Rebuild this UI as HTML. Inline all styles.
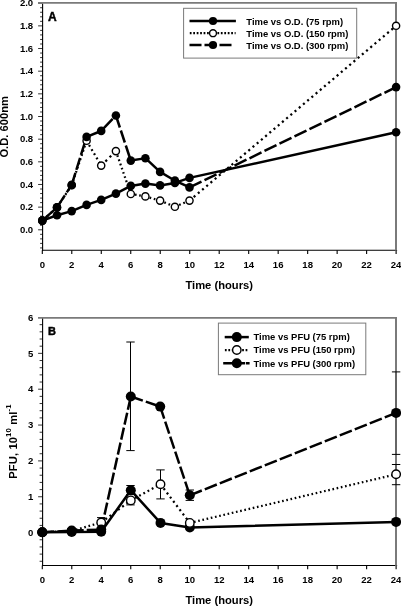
<!DOCTYPE html>
<html lang="en">
<head>
<meta charset="utf-8">
<title>Growth curves and PFU</title>
<style>
html,body{margin:0;padding:0;background:#fff;}
body{width:401px;height:606px;overflow:hidden;}
svg{display:block;}
text{font-family:"Liberation Sans", Arial, Helvetica, sans-serif;font-weight:bold;fill:#000;}
.tk{font-size:9.55px;}
.ti{font-size:11.2px;}
.lg{font-size:9.45px;}
.pl{font-size:12px;stroke:#000;stroke-width:0.45px;}
</style>
</head>
<body>
<svg width="401" height="606" viewBox="0 0 401 606">
<rect width="401" height="606" fill="#fff"/>
<g id="panelA">
<path d="M42.6 3.4V250.9M42.0 250.3H397.108" stroke="#000" stroke-width="1.1" fill="none"/>
<path d="M42.6 247.93h-2.5M42.6 243.40h-2.5M42.6 238.86h-2.5M42.6 234.33h-2.5M42.6 229.80h-4.5M42.6 225.27h-2.5M42.6 220.74h-2.5M42.6 216.20h-2.5M42.6 211.67h-2.5M42.6 207.14h-4.5M42.6 202.61h-2.5M42.6 198.08h-2.5M42.6 193.54h-2.5M42.6 189.01h-2.5M42.6 184.48h-4.5M42.6 179.95h-2.5M42.6 175.42h-2.5M42.6 170.88h-2.5M42.6 166.35h-2.5M42.6 161.82h-4.5M42.6 157.29h-2.5M42.6 152.76h-2.5M42.6 148.22h-2.5M42.6 143.69h-2.5M42.6 139.16h-4.5M42.6 134.63h-2.5M42.6 130.10h-2.5M42.6 125.56h-2.5M42.6 121.03h-2.5M42.6 116.50h-4.5M42.6 111.97h-2.5M42.6 107.44h-2.5M42.6 102.90h-2.5M42.6 98.37h-2.5M42.6 93.84h-4.5M42.6 89.31h-2.5M42.6 84.78h-2.5M42.6 80.24h-2.5M42.6 75.71h-2.5M42.6 71.18h-4.5M42.6 66.65h-2.5M42.6 62.12h-2.5M42.6 57.58h-2.5M42.6 53.05h-2.5M42.6 48.52h-4.5M42.6 43.99h-2.5M42.6 39.46h-2.5M42.6 34.92h-2.5M42.6 30.39h-2.5M42.6 25.86h-4.5M42.6 21.33h-2.5M42.6 16.80h-2.5M42.6 12.26h-2.5M42.6 7.73h-2.5M42.6 3.20h-4.5" stroke="#000" stroke-width="0.8" fill="none"/>
<text x="33.2" y="233.0" text-anchor="end" class="tk">0.0</text>
<text x="33.2" y="210.3" text-anchor="end" class="tk">0.2</text>
<text x="33.2" y="187.7" text-anchor="end" class="tk">0.4</text>
<text x="33.2" y="165.0" text-anchor="end" class="tk">0.6</text>
<text x="33.2" y="142.4" text-anchor="end" class="tk">0.8</text>
<text x="33.2" y="119.7" text-anchor="end" class="tk">1.0</text>
<text x="33.2" y="97.0" text-anchor="end" class="tk">1.2</text>
<text x="33.2" y="74.4" text-anchor="end" class="tk">1.4</text>
<text x="33.2" y="51.7" text-anchor="end" class="tk">1.6</text>
<text x="33.2" y="29.1" text-anchor="end" class="tk">1.8</text>
<text x="33.2" y="6.4" text-anchor="end" class="tk">2.0</text>
<path d="M38.0 2.9H397.008" stroke="#7a7a7a" stroke-width="1.7" fill="none"/>
<path d="M396 2.9V250.9" stroke="#7a7a7a" stroke-width="2" fill="none"/>
<path d="M42.30 250.3v3.8M71.78 250.3v3.8M101.27 250.3v3.8M130.75 250.3v3.8M160.24 250.3v3.8M189.72 250.3v3.8M219.20 250.3v3.8M248.69 250.3v3.8M278.17 250.3v3.8M307.66 250.3v3.8M337.14 250.3v3.8M366.62 250.3v3.8M396.11 250.3v3.8" stroke="#000" stroke-width="1.1" fill="none"/>
<text x="42.30" y="267.5" text-anchor="middle" class="tk">0</text>
<text x="71.78" y="267.5" text-anchor="middle" class="tk">2</text>
<text x="101.27" y="267.5" text-anchor="middle" class="tk">4</text>
<text x="130.75" y="267.5" text-anchor="middle" class="tk">6</text>
<text x="160.24" y="267.5" text-anchor="middle" class="tk">8</text>
<text x="189.72" y="267.5" text-anchor="middle" class="tk">10</text>
<text x="219.20" y="267.5" text-anchor="middle" class="tk">12</text>
<text x="248.69" y="267.5" text-anchor="middle" class="tk">14</text>
<text x="278.17" y="267.5" text-anchor="middle" class="tk">16</text>
<text x="307.66" y="267.5" text-anchor="middle" class="tk">18</text>
<text x="337.14" y="267.5" text-anchor="middle" class="tk">20</text>
<text x="366.62" y="267.5" text-anchor="middle" class="tk">22</text>
<text x="396.11" y="267.5" text-anchor="middle" class="tk">24</text>
<text x="219.2" y="288.9" text-anchor="middle" class="ti">Time (hours)</text>
<text transform="translate(8.3,126.8) rotate(-90)" text-anchor="middle" class="ti">O.D. 600nm</text>
<text x="48" y="21.3" class="pl" style="font-size:12px">A</text>
<path d="M42.3 220.6L57.0 215.3L71.7 211.1L86.6 204.9L101.2 199.9L115.9 193.6L130.8 185.9L145.4 183.6L160.1 185.4L174.9 182.9L189.5 177.9L396.1 132.3" stroke="#000" stroke-width="2.5" fill="none" stroke-linejoin="round"/>
<path d="M42.3 220.6L57.0 207.4" stroke="#000" stroke-width="2.25" fill="none" stroke-dasharray="2.15 3.49"/>
<path d="M57.0 207.4L71.7 185.2" stroke="#000" stroke-width="2.25" fill="none" stroke-dasharray="1.92 3.12"/>
<path d="M71.7 185.2L86.6 140.8" stroke="#000" stroke-width="2.25" fill="none" stroke-dasharray="1.69 2.74"/>
<path d="M86.6 140.8L101.2 165.6" stroke="#000" stroke-width="2.25" fill="none" stroke-dasharray="1.86 3.02"/>
<path d="M101.2 165.6L115.9 151.1" stroke="#000" stroke-width="2.25" fill="none" stroke-dasharray="2.25 3.65"/>
<path d="M115.9 151.1L130.8 194.0" stroke="#000" stroke-width="2.25" fill="none" stroke-dasharray="1.69 2.75"/>
<path d="M130.8 194.0L145.4 196.4" stroke="#000" stroke-width="2.25" fill="none" stroke-dasharray="1.62 2.63"/>
<path d="M145.4 196.4L160.1 200.6" stroke="#000" stroke-width="2.25" fill="none" stroke-dasharray="1.66 2.70"/>
<path d="M160.1 200.6L174.9 206.8" stroke="#000" stroke-width="2.25" fill="none" stroke-dasharray="1.73 2.82"/>
<path d="M174.9 206.8L189.5 200.6" stroke="#000" stroke-width="2.25" fill="none" stroke-dasharray="1.74 2.82"/>
<path d="M189.5 200.6L396.1 25.8" stroke="#000" stroke-width="2.25" fill="none" stroke-dasharray="2.10 3.41"/>
<path d="M42.3 220.6L57.0 207.4" stroke="#000" stroke-width="2.5" fill="none" stroke-dasharray="16.13 4.03"/>
<path d="M57.0 207.4L71.7 184.9" stroke="#000" stroke-width="2.5" fill="none" stroke-dasharray="14.33 3.58"/>
<path d="M71.7 184.9L86.6 136.9" stroke="#000" stroke-width="2.5" fill="none" stroke-dasharray="12.56 3.14"/>
<path d="M86.6 136.9L101.2 130.9" stroke="#000" stroke-width="2.5" fill="none" stroke-dasharray="12.97 3.24"/>
<path d="M101.2 130.9L115.9 115.5" stroke="#000" stroke-width="2.5" fill="none" stroke-dasharray="16.59 4.15"/>
<path d="M115.9 115.5L130.8 160.6" stroke="#000" stroke-width="2.5" fill="none" stroke-dasharray="12.64 3.16"/>
<path d="M130.8 160.6L145.4 158.2" stroke="#000" stroke-width="2.5" fill="none" stroke-dasharray="12.16 3.04"/>
<path d="M145.4 158.2L160.1 171.9" stroke="#000" stroke-width="2.5" fill="none" stroke-dasharray="16.40 4.10"/>
<path d="M160.1 171.9L174.9 180.6" stroke="#000" stroke-width="2.5" fill="none" stroke-dasharray="13.92 3.48"/>
<path d="M174.9 180.6L189.5 187.4" stroke="#000" stroke-width="2.5" fill="none" stroke-dasharray="13.24 3.31"/>
<path d="M189.5 187.4L396.1 87.1" stroke="#000" stroke-width="2.5" fill="none" stroke-dasharray="13.34 3.33"/>
<circle cx="42.3" cy="220.6" r="4.30" fill="#000"/>
<circle cx="57.0" cy="215.3" r="4.30" fill="#000"/>
<circle cx="71.7" cy="211.1" r="4.30" fill="#000"/>
<circle cx="86.6" cy="204.9" r="4.30" fill="#000"/>
<circle cx="101.2" cy="199.9" r="4.30" fill="#000"/>
<circle cx="115.9" cy="193.6" r="4.30" fill="#000"/>
<circle cx="130.8" cy="185.9" r="4.30" fill="#000"/>
<circle cx="145.4" cy="183.6" r="4.30" fill="#000"/>
<circle cx="160.1" cy="185.4" r="4.30" fill="#000"/>
<circle cx="174.9" cy="182.9" r="4.30" fill="#000"/>
<circle cx="189.5" cy="177.9" r="4.30" fill="#000"/>
<circle cx="396.1" cy="132.3" r="4.30" fill="#000"/>
<circle cx="42.3" cy="220.6" r="3.60" fill="#fff" stroke="#000" stroke-width="1.4"/>
<circle cx="57.0" cy="207.4" r="3.60" fill="#fff" stroke="#000" stroke-width="1.4"/>
<circle cx="71.7" cy="185.2" r="3.60" fill="#fff" stroke="#000" stroke-width="1.4"/>
<circle cx="86.6" cy="140.8" r="3.60" fill="#fff" stroke="#000" stroke-width="1.4"/>
<circle cx="101.2" cy="165.6" r="3.60" fill="#fff" stroke="#000" stroke-width="1.4"/>
<circle cx="115.9" cy="151.1" r="3.60" fill="#fff" stroke="#000" stroke-width="1.4"/>
<circle cx="130.8" cy="194.0" r="3.60" fill="#fff" stroke="#000" stroke-width="1.4"/>
<circle cx="145.4" cy="196.4" r="3.60" fill="#fff" stroke="#000" stroke-width="1.4"/>
<circle cx="160.1" cy="200.6" r="3.60" fill="#fff" stroke="#000" stroke-width="1.4"/>
<circle cx="174.9" cy="206.8" r="3.60" fill="#fff" stroke="#000" stroke-width="1.4"/>
<circle cx="189.5" cy="200.6" r="3.60" fill="#fff" stroke="#000" stroke-width="1.4"/>
<circle cx="396.1" cy="25.8" r="3.60" fill="#fff" stroke="#000" stroke-width="1.4"/>
<circle cx="42.3" cy="220.6" r="4.30" fill="#000"/>
<circle cx="57.0" cy="207.4" r="4.30" fill="#000"/>
<circle cx="71.7" cy="184.9" r="4.30" fill="#000"/>
<circle cx="86.6" cy="136.9" r="4.30" fill="#000"/>
<circle cx="101.2" cy="130.9" r="4.30" fill="#000"/>
<circle cx="115.9" cy="115.5" r="4.30" fill="#000"/>
<circle cx="130.8" cy="160.6" r="4.30" fill="#000"/>
<circle cx="145.4" cy="158.2" r="4.30" fill="#000"/>
<circle cx="160.1" cy="171.9" r="4.30" fill="#000"/>
<circle cx="174.9" cy="180.6" r="4.30" fill="#000"/>
<circle cx="189.5" cy="187.4" r="4.30" fill="#000"/>
<circle cx="396.1" cy="87.1" r="4.30" fill="#000"/>
<rect x="183.6" y="8.3" width="173.1" height="49.8" fill="#fff" stroke="#7a7a7a" stroke-width="1"/>
<path d="M189.5 21.0H235.9" stroke="#000" stroke-width="2.5"/>
<circle cx="213" cy="21.0" r="4.1" fill="#000"/>
<text x="246.3" y="24.5" class="lg">Time vs O.D. (75 rpm)</text>
<path d="M189.8 33.2H235.6" stroke="#000" stroke-width="2.25" stroke-dasharray="1.75 1.7"/>
<circle cx="213" cy="33.2" r="3.45" fill="#fff" stroke="#000" stroke-width="1.4"/>
<text x="246.3" y="36.7" class="lg">Time vs O.D. (150 rpm)</text>
<path d="M189.5 45.0H234.2" stroke="#000" stroke-width="2.5" stroke-dasharray="12 3"/>
<circle cx="213" cy="45.0" r="4.1" fill="#000"/>
<text x="246.3" y="48.5" class="lg">Time vs O.D. (300 rpm)</text>
</g>
<g id="panelB">
<path d="M42.6 318.1V566.1M42.0 565.5H397.108" stroke="#000" stroke-width="1.1" fill="none"/>
<path d="M42.6 561.28h-3.0M42.6 554.11h-3.0M42.6 546.94h-3.0M42.6 539.77h-3.0M42.6 532.60h-4.5M42.6 525.43h-3.0M42.6 518.26h-3.0M42.6 511.09h-3.0M42.6 503.92h-3.0M42.6 496.75h-4.5M42.6 489.58h-3.0M42.6 482.41h-3.0M42.6 475.24h-3.0M42.6 468.07h-3.0M42.6 460.90h-4.5M42.6 453.73h-3.0M42.6 446.56h-3.0M42.6 439.39h-3.0M42.6 432.22h-3.0M42.6 425.05h-4.5M42.6 417.88h-3.0M42.6 410.71h-3.0M42.6 403.54h-3.0M42.6 396.37h-3.0M42.6 389.20h-4.5M42.6 382.03h-3.0M42.6 374.86h-3.0M42.6 367.69h-3.0M42.6 360.52h-3.0M42.6 353.35h-4.5M42.6 346.18h-3.0M42.6 339.01h-3.0M42.6 331.84h-3.0M42.6 324.67h-3.0M42.6 317.50h-4.5" stroke="#000" stroke-width="0.8" fill="none"/>
<text x="33.2" y="535.8" text-anchor="end" class="tk">0</text>
<text x="33.2" y="499.9" text-anchor="end" class="tk">1</text>
<text x="33.2" y="464.1" text-anchor="end" class="tk">2</text>
<text x="33.2" y="428.2" text-anchor="end" class="tk">3</text>
<text x="33.2" y="392.4" text-anchor="end" class="tk">4</text>
<text x="33.2" y="356.6" text-anchor="end" class="tk">5</text>
<text x="33.2" y="320.7" text-anchor="end" class="tk">6</text>
<path d="M38.0 317.9H397.008" stroke="#7a7a7a" stroke-width="1.7" fill="none"/>
<path d="M396 317.9V566.1" stroke="#7a7a7a" stroke-width="2" fill="none"/>
<path d="M42.30 565.5v3.8M71.78 565.5v3.8M101.27 565.5v3.8M130.75 565.5v3.8M160.24 565.5v3.8M189.72 565.5v3.8M219.20 565.5v3.8M248.69 565.5v3.8M278.17 565.5v3.8M307.66 565.5v3.8M337.14 565.5v3.8M366.62 565.5v3.8M396.11 565.5v3.8" stroke="#000" stroke-width="1.1" fill="none"/>
<text x="42.30" y="582.7" text-anchor="middle" class="tk">0</text>
<text x="71.78" y="582.7" text-anchor="middle" class="tk">2</text>
<text x="101.27" y="582.7" text-anchor="middle" class="tk">4</text>
<text x="130.75" y="582.7" text-anchor="middle" class="tk">6</text>
<text x="160.24" y="582.7" text-anchor="middle" class="tk">8</text>
<text x="189.72" y="582.7" text-anchor="middle" class="tk">10</text>
<text x="219.20" y="582.7" text-anchor="middle" class="tk">12</text>
<text x="248.69" y="582.7" text-anchor="middle" class="tk">14</text>
<text x="278.17" y="582.7" text-anchor="middle" class="tk">16</text>
<text x="307.66" y="582.7" text-anchor="middle" class="tk">18</text>
<text x="337.14" y="582.7" text-anchor="middle" class="tk">20</text>
<text x="366.62" y="582.7" text-anchor="middle" class="tk">22</text>
<text x="396.11" y="582.7" text-anchor="middle" class="tk">24</text>
<text x="219.2" y="604.1" text-anchor="middle" class="ti">Time (hours)</text>
<text transform="translate(16.6,441.5) rotate(-90)" text-anchor="middle" class="ti" style="letter-spacing:0.12px">PFU, 10<tspan dy="-5.2" style="font-size:7.8px">10</tspan><tspan dy="5.2"> ml</tspan><tspan dy="-5.2" style="font-size:7.8px">-1</tspan></text>
<text x="48" y="335.4" class="pl" style="font-size:11px">B</text>
<path d="M42.3 532.3L71.7 531.9L101.2 531.7L130.8 490.2L160.5 522.9L189.8 527.4L396.1 521.9" stroke="#000" stroke-width="2.5" fill="none" stroke-linejoin="round"/>
<path d="M42.3 532.3L71.7 530.9" stroke="#000" stroke-width="2.25" fill="none" stroke-dasharray="1.60 2.60"/>
<path d="M71.7 530.9L101.2 522.5" stroke="#000" stroke-width="2.25" fill="none" stroke-dasharray="1.66 2.70"/>
<path d="M101.2 522.5L130.8 500.4" stroke="#000" stroke-width="2.25" fill="none" stroke-dasharray="2.00 3.24"/>
<path d="M130.8 500.4L160.5 484.2" stroke="#000" stroke-width="2.25" fill="none" stroke-dasharray="1.82 2.96"/>
<path d="M160.5 484.2L189.8 522.9" stroke="#000" stroke-width="2.25" fill="none" stroke-dasharray="2.01 3.26"/>
<path d="M189.8 522.9L396.1 474.3" stroke="#000" stroke-width="2.25" fill="none" stroke-dasharray="1.64 2.67"/>
<path d="M42.3 532.3L71.7 530.6" stroke="#000" stroke-width="2.5" fill="none" stroke-dasharray="12.02 3.01"/>
<path d="M71.7 530.6L101.2 529.6" stroke="#000" stroke-width="2.5" fill="none" stroke-dasharray="12.01 3.00"/>
<path d="M101.2 529.6L130.8 396.5" stroke="#000" stroke-width="2.5" fill="none" stroke-dasharray="12.29 3.07"/>
<path d="M130.8 396.5L160.2 406.6" stroke="#000" stroke-width="2.5" fill="none" stroke-dasharray="12.69 3.17"/>
<path d="M160.2 406.6L189.8 495.3" stroke="#000" stroke-width="2.5" fill="none" stroke-dasharray="12.65 3.16"/>
<path d="M189.8 495.3L396.1 412.9" stroke="#000" stroke-width="2.5" fill="none" stroke-dasharray="12.92 3.23"/>
<path d="M130.5 342V450.6M126.3 342h8.4M126.3 450.6h8.4" stroke="#000" stroke-width="1" fill="none"/>
<path d="M160.5 469.9V498.9M156.3 469.9h8.4M156.3 498.9h8.4" stroke="#000" stroke-width="1" fill="none"/>
<path d="M101.2 517.6V527.4M97.0 517.6h8.4M97.0 527.4h8.4" stroke="#000" stroke-width="1" fill="none"/>
<path d="M130.5 485.5V494.5M126.3 485.5h8.4M126.3 494.5h8.4" stroke="#000" stroke-width="1" fill="none"/>
<path d="M130.5 498V504.9M126.3 504.9h8.4" stroke="#000" stroke-width="1" fill="none"/>
<path d="M189.8 490V500.4M185.60000000000002 490h8.4M185.60000000000002 500.4h8.4" stroke="#000" stroke-width="1" fill="none"/>
<path d="M396 371.9V454.4" stroke="#666" stroke-width="2" fill="none"/>
<path d="M391.90000000000003 371.9h8.4M391.90000000000003 454.4h8.4" stroke="#000" stroke-width="1" fill="none"/>
<path d="M396 464.5V484.7" stroke="#666" stroke-width="2" fill="none"/>
<path d="M391.90000000000003 464.5h8.4M391.90000000000003 484.7h8.4" stroke="#000" stroke-width="1" fill="none"/>
<circle cx="42.3" cy="532.3" r="5.00" fill="#000"/>
<circle cx="71.7" cy="531.9" r="5.00" fill="#000"/>
<circle cx="101.2" cy="531.7" r="5.00" fill="#000"/>
<circle cx="130.8" cy="490.2" r="5.00" fill="#000"/>
<circle cx="160.5" cy="522.9" r="5.00" fill="#000"/>
<circle cx="189.8" cy="527.4" r="5.00" fill="#000"/>
<circle cx="396.1" cy="521.9" r="5.00" fill="#000"/>
<circle cx="42.3" cy="532.3" r="4.25" fill="#fff" stroke="#000" stroke-width="1.4"/>
<circle cx="71.7" cy="530.9" r="4.25" fill="#fff" stroke="#000" stroke-width="1.4"/>
<circle cx="101.2" cy="522.5" r="4.25" fill="#fff" stroke="#000" stroke-width="1.4"/>
<circle cx="130.8" cy="500.4" r="4.25" fill="#fff" stroke="#000" stroke-width="1.4"/>
<circle cx="160.5" cy="484.2" r="4.25" fill="#fff" stroke="#000" stroke-width="1.4"/>
<circle cx="189.8" cy="522.9" r="4.25" fill="#fff" stroke="#000" stroke-width="1.4"/>
<circle cx="396.1" cy="474.3" r="4.25" fill="#fff" stroke="#000" stroke-width="1.4"/>
<circle cx="42.3" cy="532.3" r="5.00" fill="#000"/>
<circle cx="71.7" cy="530.6" r="5.00" fill="#000"/>
<circle cx="101.2" cy="529.6" r="5.00" fill="#000"/>
<circle cx="130.8" cy="396.5" r="5.00" fill="#000"/>
<circle cx="160.2" cy="406.6" r="5.00" fill="#000"/>
<circle cx="189.8" cy="495.3" r="5.00" fill="#000"/>
<circle cx="396.1" cy="412.9" r="5.00" fill="#000"/>
<rect x="218.4" y="323.1" width="147.4" height="51.6" fill="#fff" stroke="#7a7a7a" stroke-width="1"/>
<path d="M224.7 337.1H248.8" stroke="#000" stroke-width="2.5"/>
<circle cx="236.8" cy="337.1" r="5" fill="#000"/>
<text x="253.5" y="340.4" class="lg">Time vs PFU (75 rpm)</text>
<path d="M224.9 350.0H249" stroke="#000" stroke-width="2.25" stroke-dasharray="1.75 1.7"/>
<circle cx="236.8" cy="350.0" r="4.2" fill="#fff" stroke="#000" stroke-width="1.4"/>
<text x="253.5" y="353.3" class="lg">Time vs PFU (150 rpm)</text>
<path d="M223.2 363.3H249.6" stroke="#000" stroke-width="2.5" stroke-dasharray="22 0.8 3.6 9"/>
<circle cx="236.8" cy="363.3" r="5" fill="#000"/>
<text x="253.5" y="366.6" class="lg">Time vs PFU (300 rpm)</text>
</g>
</svg>
</body>
</html>
